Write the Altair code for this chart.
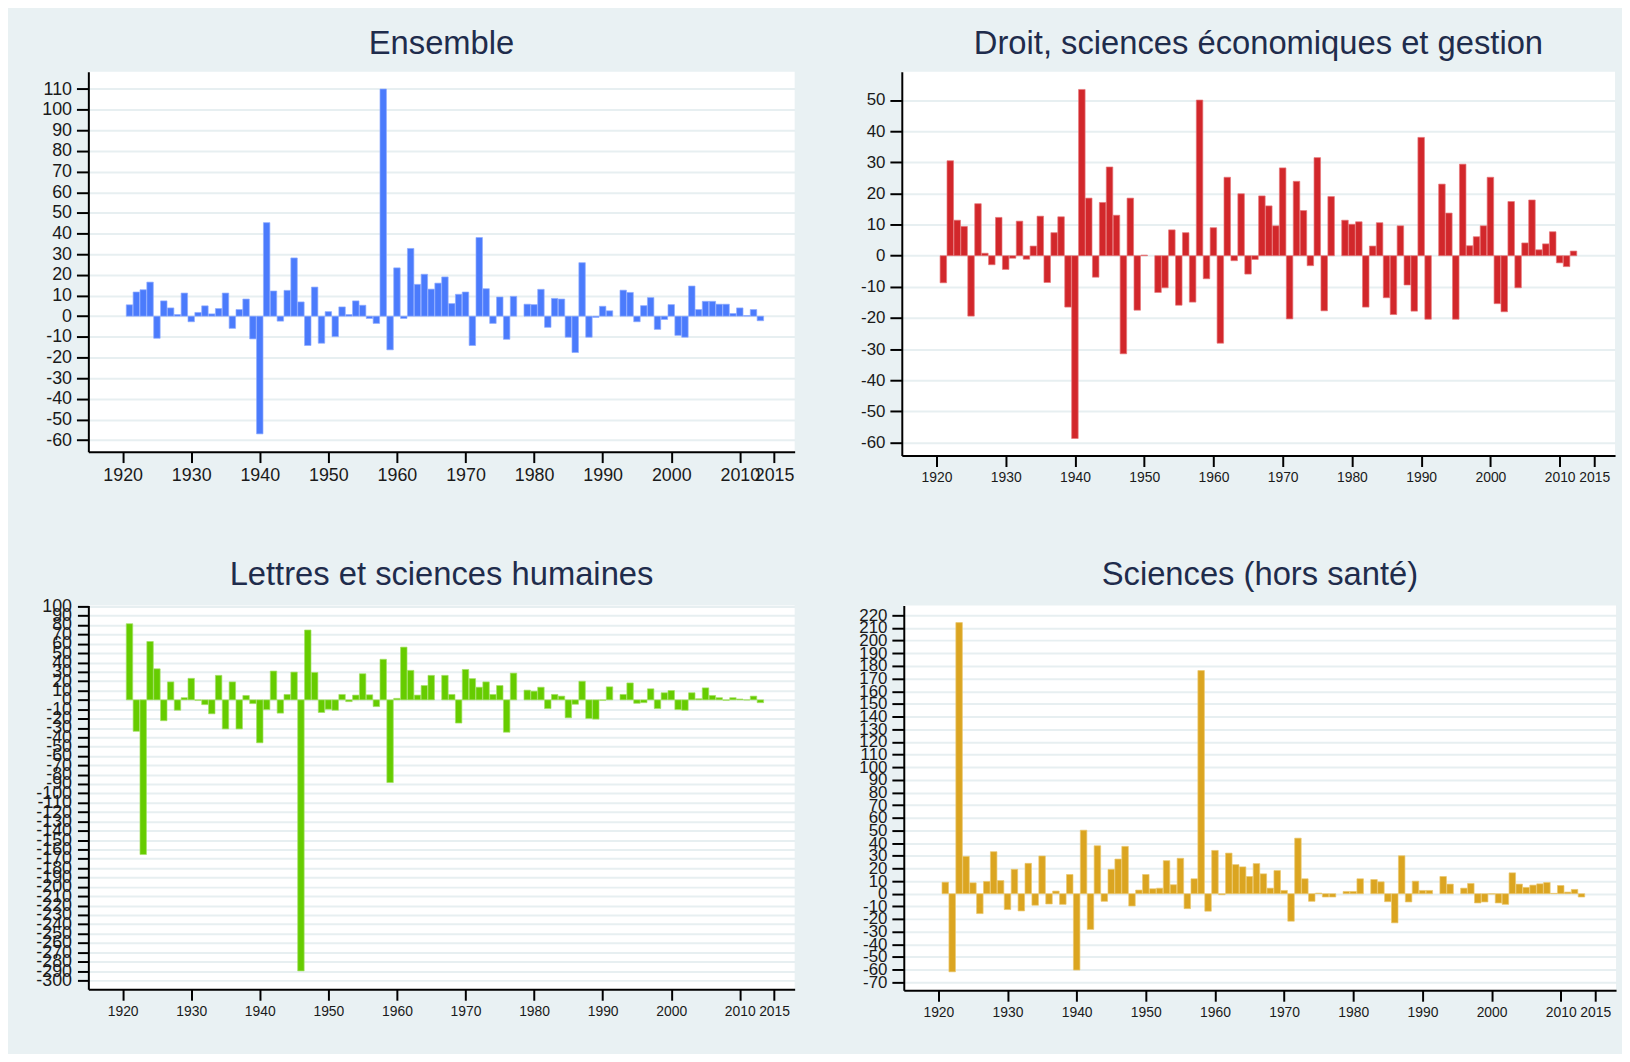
import altair as alt
import pandas as pd

YEARS = list(range(1921, 2014))

ensemble = [5.5, 11.7, 12.8, 16.5, -10.7, 7.4, 4, 0.8, 11.2, -2.7,
            1.8, 5, 1.1, 3.7, 11.2, -5.9, 3.2, 8.3, -11, -57,
            45.3, 12.2, -2.4, 12.5, 28.2, 6.9, -14.2, 14.1, -13.1, 2.2,
            -9.9, 4.5, 0.8, 7.4, 5.3, -1.1, -3.5, 110, -16.3, 23.4,
            -1.1, 32.8, 15.4, 20.3, 13.1, 16, 19, 6.1, 10.6, 11.7,
            -14.2, 38.1, 13.3, -3.5, 9.3, -11.2, 9.6, None, 5.8, 5.6,
            13, -5.4, 8.6, 8.3, -10.2, -17.6, 25.9, -10.2, -0.6, 4.8,
            2.6, None, 12.6, 11.5, -2.7, 5.1, 9, -6.4, -1.6, 5.6,
            -9.3, -10.2, 14.6, 3.2, 7.2, 7.2, 5.8, 5.8, 1.3, 4,
            0.3, 3.2, -2.2]

droit = [-8.7, 30.5, 11.4, 9.4, -19.4, 16.7, 0.8, -2.9, 12.3, -4.4,
         -0.8, 11.1, -1.1, 3.1, 12.7, -8.6, 7.4, 12.5, -16.5, -58.7,
         53.4, 18.5, -6.9, 17.1, 28.5, 13, -31.5, 18.5, -17.5, 0.2,
         None, -11.8, -10.3, 8.3, -15.9, 7.4, -14.9, 50, -7.4, 9,
         -28.1, 25.2, -1.6, 19.9, -5.9, -1.2, 19.2, 16, 9.6, 28.2,
         -20.3, 23.9, 14.5, -3.2, 31.5, -17.7, 19, None, 11.4, 10.1,
         10.9, -16.5, 3.1, 10.6, -13.5, -18.9, 9.6, -9.4, -17.8, 38,
         -20.4, None, 23, 13.7, -20.4, 29.4, 3.2, 6.1, 9.6, 25.2,
         -15.4, -18, 17.4, -10.3, 4.1, 17.9, 1.9, 3.8, 7.7, -2.3,
         -3.5, 1.5, None]

lettres = [81.4, -33.6, -165.4, 62.4, 33.2, -22.3, 19.2, -11.1, 2.3, 23,
           -0.5, -5.1, -14.9, 26.2, -31.1, 19.2, -31.1, 4.7, -4, -45.9,
           -10.4, 30.8, -14.2, 5.8, 29.7, -289.8, 74.7, 29.3, -13.5, -10.0,
           -11.1, 5.8, -1.9, 5.1, 27.9, 5.4, -7.2, 43.4, -88.4, 1.6,
           56.4, 31.5, 5.1, 15.3, 26.2, None, 26.2, 5.8, -24.8, 32.5,
           22.7, 13.5, 19.2, 5.8, 15.3, -34.6, 28.6, None, 10.4, 9.3,
           13.5, -9.3, 5.8, 4, -19.2, -4.7, 19.9, -19.9, -20.6, -0.5,
           13.9, None, 5.8, 18.1, -3.7, -3.0, 11.8, -9.3, 7.6, 10,
           -10.4, -11.1, 7.6, 1.2, 12.8, 4.7, 2.3, -0.5, 2.3, 0.9,
           -0.2, 4, -3]

sciences = [9.1, -61.7, 214.2, 29.5, 8.6, -15.7, 9.7, 33.2, 10.4, -12.5,
            19.3, -13.6, 24, -9.1, 29.8, -8.1, 2.1, -8.4, 15.2, -60.3,
            50.2, -28.2, 37.9, -6, 19.3, 27.4, 37.4, -9.7, 2.9, 15.2,
            3.9, 4.4, 26.1, 7.1, 28, -11.8, 11.8, 176.3, -13.8, 34.2,
            -0.8, 32.1, 23, 21.2, 13.6, 23.8, 15.7, 4.4, 18.3, 2.6,
            -21.7, 43.9, 11.8, -6, 0.5, -2.6, -2.6, None, 1.8, 1.8,
            11.8, None, 11.2, 9.4, -6.3, -23, 30, -6.5, 9.9, 2.6,
            2.6, None, 13.6, 7.6, None, 4.4, 8.1, -7.3, -6.5, -0.3,
            -7.3, -8.4, 16.5, 7.6, 5, 6.8, 7.8, 8.9, 0.3, 6.5,
            1.3, 3.4, -2.6]

TITLES = ["Ensemble", "Droit, sciences économiques et gestion",
          "Lettres et sciences humaines", "Sciences (hors santé)"]
X_TICKS = [1920, 1930, 1940, 1950, 1960, 1970, 1980, 1990, 2000, 2010, 2015]

BG = "#e9f1f3"
GRID = "#e7eff1"
FONT = "Liberation Sans"
HYPHEN = "replace(datum.label, '\u2212', '-')"


def panel(title, values, color, light, width, height, ydom, yticks,
          ylab_fs, xlab_fs, toff, ypad=5, ytick=12):
    df = pd.DataFrame({"year": YEARS, "v": values}).dropna()
    return (
        alt.Chart(df)
        .transform_calculate(x0="datum.year - 0.47", x1="datum.year + 0.47", base="0")
        .mark_bar(color=color, stroke=light, strokeWidth=0.7)
        .encode(
            x=alt.X("x0:Q",
                    scale=alt.Scale(domain=[1915, 2018], nice=False, zero=False),
                    axis=alt.Axis(values=X_TICKS, format="d", title=None, grid=False,
                                  labelFontSize=xlab_fs, labelFont=FONT, labelColor="#1a1a1a",
                                  labelOverlap=False, labelFlush=False, labelPadding=4,
                                  tickSize=11, tickWidth=2, tickColor="black",
                                  domainWidth=2, domainColor="black")),
            x2="x1:Q",
            y=alt.Y("v:Q",
                    scale=alt.Scale(domain=ydom, nice=False, zero=False),
                    axis=alt.Axis(values=yticks, title=None, grid=True, gridColor=GRID,
                                  gridWidth=2, labelFontSize=ylab_fs, labelFont=FONT,
                                  labelExpr=HYPHEN,
                                  labelColor="#1a1a1a", labelOverlap=False, labelFlush=False,
                                  labelPadding=ypad, tickSize=ytick, tickWidth=2,
                                  tickColor="black", domainWidth=2, domainColor="black")),
            y2="base:Q",
        )
        .properties(
            width=width, height=height,
            title=alt.TitleParams(title, fontSize=33, font=FONT, fontWeight="normal",
                                  color="#1f2c4c", baseline="alphabetic", offset=toff,
                                  anchor="middle"),
        )
    )


a = panel(TITLES[0], ensemble, "#4b7bfc", "#8fadff", 712, 383,
          [-65.6, 118.4], list(range(-60, 111, 10)), 18, 18, -15)
b = panel(TITLES[1], droit, "#d2272b", "#e6777a", 719, 387,
          [-64.2, 59.1], list(range(-60, 51, 10)), 17, 14, -15)
c = panel(TITLES[2], lettres, "#66cc00", "#a3e066", 712, 387,
          [-309.5, 101], list(range(-300, 101, 10)), 18, 14, -20, ypad=6, ytick=11)
d = panel(TITLES[3], sciences, "#dba521", "#ebc870", 718, 388,
          [-76.3, 227.8], list(range(-70, 221, 10)), 17, 14, -12)

row1 = alt.hconcat(a, b, spacing=66)
row2 = alt.hconcat(c, d, spacing=64)

chart = (
    alt.concat(row1, row2, columns=1, align="none", spacing=74)
    .properties(background=BG,
                padding={"left": 27, "top": 16, "right": 6, "bottom": 31})
    .configure_view(fill="white", strokeWidth=0)
)

chart.save("out.html", embed_options={"renderer": "svg", "actions": False})
